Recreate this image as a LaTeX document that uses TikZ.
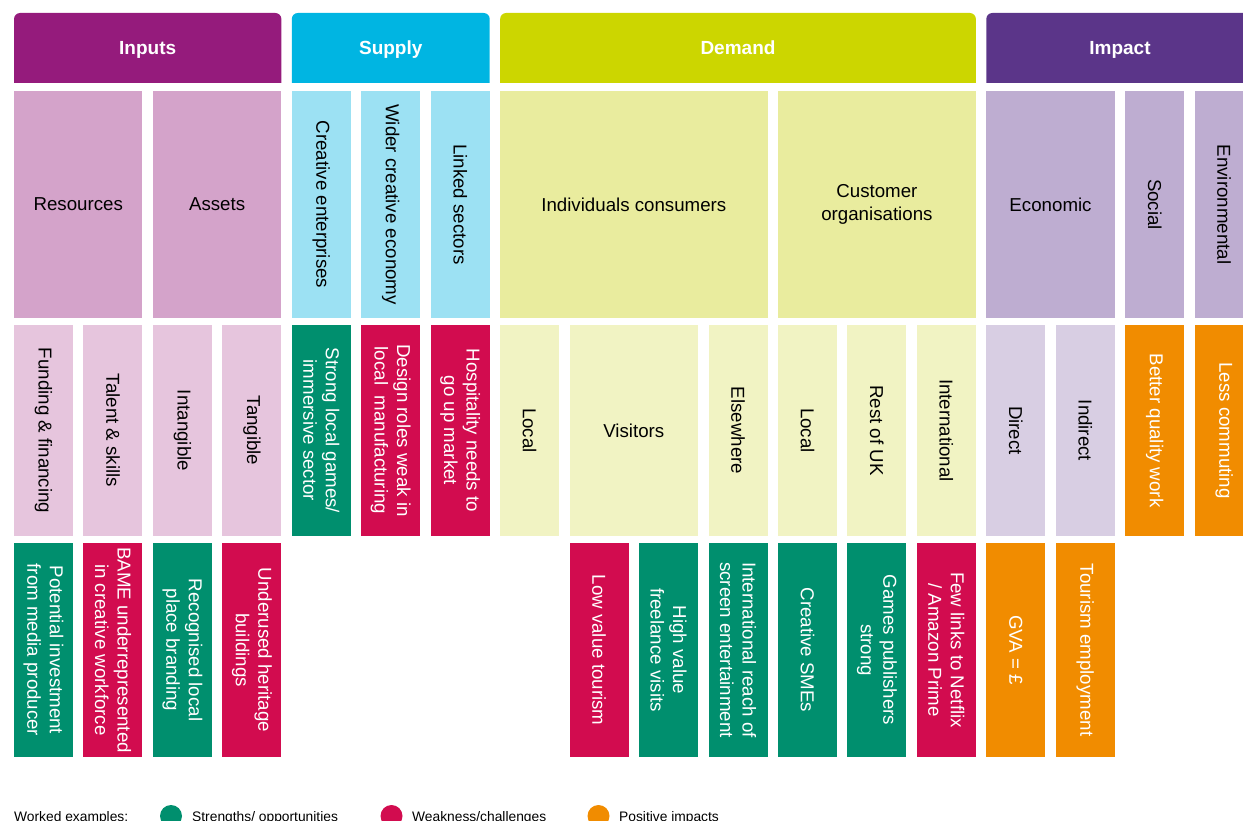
\documentclass[tikz,border=0pt]{standalone}
\usepackage{fontspec}
\setmainfont{Liberation Sans}
\setsansfont{Liberation Sans}
\usetikzlibrary{shapes,backgrounds}
\definecolor{inHead}{RGB}{149,27,124}
\definecolor{inMid}{RGB}{212,163,202}
\definecolor{inLow}{RGB}{230,197,221}
\definecolor{supHead}{RGB}{0,181,226}
\definecolor{supMid}{RGB}{156,225,243}
\definecolor{demHead}{RGB}{204,214,0}
\definecolor{demMid}{RGB}{233,236,158}
\definecolor{demLow}{RGB}{241,243,195}
\definecolor{impHead}{RGB}{91,53,137}
\definecolor{impMid}{RGB}{190,173,209}
\definecolor{impLow}{RGB}{216,206,227}
\definecolor{okGreen}{RGB}{0,143,110}
\definecolor{weakRed}{RGB}{210,12,79}
\definecolor{posOrange}{RGB}{241,140,0}

\begin{document}
\begin{tikzpicture}[x=1pt,y=-1pt,
    box/.style={rectangle,inner sep=0pt,outer sep=0pt,align=center,font=\fontsize{18.7}{22.5}\selectfont},
    head/.style={box,minimum height=70,text=white,text height=13.6,text depth=0,font=\fontsize{19}{22}\selectfont\bfseries},
    wide/.style={box,minimum height=227},
    wide3/.style={box,minimum height=211},
    v2/.style={box,rotate=-90,minimum width=227,minimum height=59},
    v3/.style={box,rotate=-90,minimum width=211,minimum height=59},
    v4/.style={box,rotate=-90,minimum width=214,minimum height=59},
    good/.style={fill=okGreen,text=white},
    weak/.style={fill=weakRed,text=white},
    plus/.style={fill=posOrange,text=white},
    dot/.style={circle,inner sep=0pt,minimum size=22},
    key/.style={anchor=base west,inner sep=0pt,font=\fontsize{13.8}{16}\selectfont}]
                \useasboundingbox(0, 0)rectangle(1243, 821);
                \clip(0, 0)rectangle(1243, 821);

                \node[head,minimum width=267.35](hIn)at(147.68, 48){Inputs};
                \node[head,minimum width=197.9](hSup)at(390.75, 48){Supply};
                \node[head,minimum width=475.7](hDem)at(738, 48){Demand};
                \node[head,minimum width=267.35](hImp)at(1119.98, 48){Impact};
                \begin{scope}[on background layer]
                \foreach \h/\c in {hIn/inHead,hSup/supHead,hDem/demHead,hImp/impHead}
                    \fill[\c](\h.south west)--([yshift=-6pt]\h.north west)arc(180:90:6pt)
                        --([xshift=-6pt]\h.north east)arc(90:0:6pt)--(\h.south east)--cycle;
                \end{scope}

                \node[wide,fill=inMid,minimum width=128.45](res)at(78.23, 204.5){Resources};
                \node[wide,fill=inMid,minimum width=128.45](ass)at(217.13, 204.5){Assets};
                \node[v2,fill=supMid](cre)at(321.3, 204.5){Creative enterprises};
                \node[v2,fill=supMid](wid)at(390.75, 204.5){Wider creative economy};
                \node[v2,fill=supMid](lnk)at(460.2, 204.5){Linked sectors};
                \node[wide,fill=demMid,minimum width=267.35](ind)at(633.83, 204.5){Individuals consumers};
                \node[wide,fill=demMid,minimum width=197.9](org)at(876.9, 204.5){Customer\\organisations};
                \node[wide,fill=impMid,minimum width=128.45](eco)at(1050.53, 204.5){Economic};
                \node[v2,fill=impMid](soc)at(1154.7, 204.5){Social};
                \node[v2,fill=impMid](env)at(1224.15, 204.5){Environmental};

                \node[v3,fill=inLow](fund)at(43.5, 430.5){Funding \& financing};
                \node[v3,fill=inLow](tal)at(112.95, 430.5){Talent \& skills};
                \node[v3,fill=inLow](intg)at(182.4, 430.5){Intangible};
                \node[v3,fill=inLow](tang)at(251.85, 430.5){Tangible};
                \node[v3,good](strg)at(321.3, 430.5){Strong local games/\\immersive sector};
                \node[v3,weak](dsgn)at(390.75, 430.5){Design roles weak in\\local\ \ manufacturing};
                \node[v3,weak](hosp)at(460.2, 430.5){Hospitality needs to\\go up market};
                \node[v3,fill=demLow](locA)at(529.65, 430.5){Local};
                \node[wide3,fill=demLow,minimum width=128.45](vis)at(633.83, 430.5){Visitors};
                \node[v3,fill=demLow](els)at(738, 430.5){Elsewhere};
                \node[v3,fill=demLow](locB)at(807.45, 430.5){Local};
                \node[v3,fill=demLow](rest)at(876.9, 430.5){Rest of UK};
                \node[v3,fill=demLow](intl)at(946.35, 430.5){International};
                \node[v3,fill=impLow](dir)at(1015.8, 430.5){Direct};
                \node[v3,fill=impLow](indir)at(1085.25, 430.5){Indirect};
                \node[v3,plus](qual)at(1154.7, 430.5){Better quality work};
                \node[v3,plus](comm)at(1224.15, 430.5){Less commuting};

                \node[v4,good](pot)at(43.5, 650){Potential investment\\from media producer};
                \node[v4,weak](bame)at(112.95, 650){BAME underrepresented\\in creative workforce};
                \node[v4,good](rec)at(182.4, 650){Recognised local\\place branding};
                \node[v4,weak](und)at(251.85, 650){Underused heritage\\buildings};
                \node[v4,weak](low)at(599.1, 650){Low value tourism};
                \node[v4,good](high)at(668.55, 650){High value\\freelance visits};
                \node[v4,good](reach)at(738, 650){International reach of\\screen entertainment};
                \node[v4,good](sme)at(807.45, 650){Creative SMEs};
                \node[v4,good](pub)at(876.9, 650){Games publishers\\strong};
                \node[v4,weak](nfx)at(946.35, 650){Few links to Netflix\\/ Amazon Prime};
                \node[v4,plus](gva)at(1015.8, 650){GVA = £};
                \node[v4,plus](tour)at(1085.25, 650){Tourism employment};

                \node[key](wk)at(14, 821){Worked examples:};
                \node[dot,fill=okGreen](dGood)at(171, 816){};
                \node[key](kGood)at(192, 821){Strengths/ opportunities};
                \node[dot,fill=weakRed](dWeak)at(391.5, 816){};
                \node[key](kWeak)at(412, 821){Weakness/challenges};
                \node[dot,fill=posOrange](dPos)at(598.5, 816){};
                \node[key](kPos)at(619, 821){Positive impacts};
            \end{tikzpicture}
\end{document}
